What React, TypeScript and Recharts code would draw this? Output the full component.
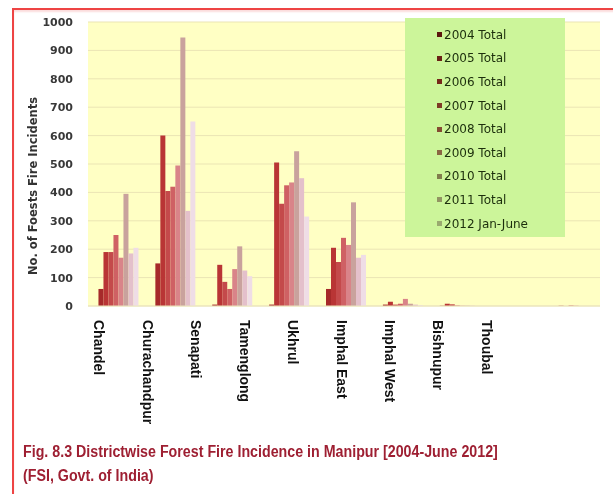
import { BarChart, Bar, XAxis, YAxis, CartesianGrid, Legend } from "recharts";

const districts = ["Chandel", "Churachandpur", "Senapati", "Tamenglong", "Ukhrul", "Imphal East", "Imphal West", "Bishnupur", "Thoubal"];
const seriesNames = ["2004 Total", "2005 Total", "2006 Total", "2007 Total", "2008 Total", "2009 Total", "2010 Total", "2011 Total", "2012 Jan-June"];

const y2004 = [0, 0, 0, 0, 0, 0, 0, 0, 0];
const y2005 = [60, 150, 5, 5, 60, 5, 1, 0, 0];
const y2006 = [190, 600, 145, 505, 205, 15, 8, 0, 1];
const y2007 = [190, 405, 85, 360, 155, 5, 6, 0, 0];
const y2008 = [250, 420, 60, 425, 240, 8, 2, 0, 2];
const y2009 = [170, 495, 130, 435, 215, 25, 1, 0, 1];
const y2010 = [395, 945, 210, 545, 365, 8, 1, 0, 0];
const y2011 = [185, 335, 125, 450, 170, 5, 1, 0, 0];
const y2012 = [205, 650, 105, 315, 180, 3, 0, 0, 0];

const yTicks = [0, 100, 200, 300, 400, 500, 600, 700, 800, 900, 1000];

const seriesValues = [y2004, y2005, y2006, y2007, y2008, y2009, y2010, y2011, y2012];
const colors = ["#8e1c1c", "#a62a2a", "#b93535", "#c44a4b", "#cf6164", "#d98489", "#c9a29d", "#e4c0cb", "#efdde6"];

const data = districts.map((d, i) => {
  const row: any = { name: d };
  seriesNames.forEach((s, k) => { row[s] = seriesValues[k][i]; });
  return row;
});

const DistrictTick = (props: any) => {
  const { x, y, payload } = props;
  // labels in the original sit left of the bar groups, drifting more to the right
  const lx = x * 0.852;
  return (
    <text x={lx} y={y + 6} transform={`rotate(90 ${lx} ${y + 6})`} textAnchor="start" dominantBaseline="central"
      fontFamily="'Liberation Sans', Arial, sans-serif" fontWeight="bold" fontSize={14} fill="#111">
      {payload.value}
    </text>
  );
};

const LegendBox = (props: any) => {
  const { payload } = props;
  return (
    <div style={{ background: "#ccf59a", width: 160, height: 219, paddingTop: 5, boxSizing: "border-box" }}>
      {payload.map((p: any) => (
        <div key={p.value} style={{ display: "flex", alignItems: "center", height: 23.6, paddingLeft: 32 }}>
          <span style={{ width: 5, height: 5, background: p.color, mixBlendMode: "multiply", filter: "brightness(0.8)", marginRight: 2 }} />
          <span style={{ fontFamily: "'DejaVu Sans', Verdana, sans-serif", fontSize: 12, color: "#1c2e0c" }}>{p.value}</span>
        </div>
      ))}
    </div>
  );
};

export default function App() {
  return (
    <div style={{ position: "absolute", left: 0, top: 0, width: 613, height: 494, background: "#fff", overflow: "hidden" }}>
      <div style={{ position: "absolute", left: 12, top: 8, width: 620, height: 500, borderLeft: "2px solid #ee4444", borderTop: "2px solid #ee4444", boxShadow: "inset 0 2px 2px #fbdcdc" }} />
      <div style={{ position: "absolute", left: 0, top: 0 }}>
        <BarChart width={613} height={440} data={data} margin={{ top: 22, right: 13, left: 0, bottom: 0 }}
          barGap={0} barCategoryGap="9.6%">
          <CartesianGrid vertical={false} fill="#ffffc4" stroke="#ebe5b4" />
          <XAxis dataKey="name" height={134} interval={0} tickLine={false} axisLine={{ stroke: "#ebe5c0" }} tick={<DistrictTick />} />
          <YAxis width={88} domain={[0, 1000]} ticks={yTicks} interval={0} tickLine={false} axisLine={false} tickMargin={9}
            tick={{ fontFamily: "'DejaVu Sans', Verdana, sans-serif", fontWeight: "bold", fontSize: 11, fill: "#383838" }}
            label={{
              content: (p: any) => {
                const vb = p.viewBox;
                const cx = vb.x + 33;
                const cy = vb.y + vb.height / 2 + 22;
                return (
                  <text x={cx} y={cy} transform={`rotate(-90 ${cx} ${cy})`} textAnchor="middle" dominantBaseline="central"
                    fontFamily="'DejaVu Sans', Verdana, sans-serif" fontWeight="bold" fontSize={11.5} fill="#333">
                    No. of Foests Fire Incidents
                  </text>
                );
              },
            }} />
          <Legend layout="vertical" align="center" verticalAlign="middle" content={<LegendBox />}
            wrapperStyle={{ position: "absolute", left: 405, top: 18, width: 160, height: 219 }} />
          {seriesNames.map((s, k) => (
            <Bar key={s} dataKey={s} fill={colors[k]} isAnimationActive={false} />
          ))}
        </BarChart>
      </div>
      <div style={{ position: "absolute", left: 23, top: 440, transform: "scaleX(0.89)", transformOrigin: "left top", whiteSpace: "nowrap", fontFamily: "'Liberation Sans', Arial, sans-serif", fontWeight: "bold", fontSize: 16, lineHeight: "24px", color: "#9e1f32" }}>
        Fig. 8.3 Districtwise Forest Fire Incidence in Manipur [2004-June 2012]<br />
        (FSI, Govt. of India)
      </div>
    </div>
  );
}
